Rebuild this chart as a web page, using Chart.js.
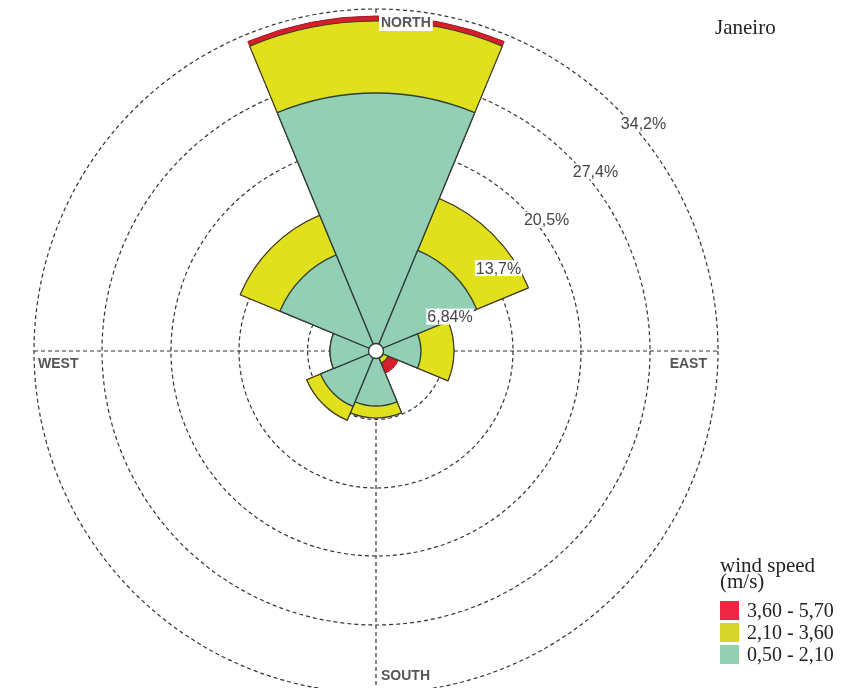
<!DOCTYPE html>
<html>
<head>
<meta charset="utf-8">
<script src="https://cdn.jsdelivr.net/npm/chart.js@4"></script>
<style>
  body { margin: 0; background: #fff; overflow: hidden; }
  #wrap { position: relative; width: 862px; height: 688px; overflow: hidden; }
  #rosa { position: absolute; left: 0; top: 0; }
  #mes { position: absolute; left: 715px; top: 15px; font: 21px "Liberation Serif", "Times New Roman", serif; line-height: 24px; color: #222; }
  #leyenda { position: absolute; left: 720px; top: 557px; font-family: "Liberation Serif", "Times New Roman", serif; color: #222; }
  #leyenda .tit { font-size: 21px; line-height: 16px; }
  #leyenda .fila { display: flex; align-items: center; height: 22px; font-size: 20px; }
  #leyenda .cuadro { width: 19px; height: 19px; margin-right: 8px; }
</style>
</head>
<body>
<div id="wrap">
  <canvas id="rosa" width="862" height="700"></canvas>
  <div id="mes">Janeiro</div>
  <div id="leyenda"></div>
</div>
<script>
// direcciones (sentido horario desde el norte)
const direcciones = ["N", "NE", "E", "SE", "S", "SW", "W", "NW"];

// frecuencia (%) por clase de velocidad
const vel_050_210 = [25.8, 10.9, 4.5, 0.8, 5.5, 6.0, 4.6, 10.4];
const vel_210_360 = [7.2, 5.6, 3.3, 0.5, 1.2, 1.5, 0, 4.3];
const vel_360_570 = [0.5, 0, 0, 1.1, 0, 0, 0, 0];

const clases = ["3,60 - 5,70", "2,10 - 3,60", "0,50 - 2,10"];
const coloresLeyenda = ["#ee2641", "#d5d52b", "#93cfb4"];

// anillos
const valoresTicks = [0, 6.84, 13.7, 20.5, 27.4, 34.2];
const etiquetasTicks = ["", "6,84%", "13,7%", "20,5%", "27,4%", "34,2%"];
const puntosCardinales = ["NORTH", "EAST", "SOUTH", "WEST"];

// acumulados para apilar los sectores
const acumAmarillo = vel_050_210.map((v, i) => v + vel_210_360[i]);
const acumRojo = acumAmarillo.map((v, i) => v + vel_360_570[i]);

// leyenda html
let html = '<div class="tit">wind speed<br>(m/s)</div><div style="height:10px"></div>';
clases.forEach((c, i) => {
  html += `<div class="fila"><div class="cuadro" style="background:${coloresLeyenda[i]}"></div>${c}</div>`;
});
document.getElementById("leyenda").innerHTML = html;

// ejes en cruz (debajo de los sectores)
const cruz = {
  id: "cruz",
  beforeDatasetsDraw(chart) {
    const r = chart.scales.r;
    const ctx = chart.ctx;
    const cx = r.xCenter, cy = r.yCenter, R = r.drawingArea;
    ctx.save();
    ctx.strokeStyle = "#333";
    ctx.lineWidth = 1.2;
    ctx.setLineDash([4, 3]);
    ctx.beginPath();
    ctx.moveTo(cx, cy - R); ctx.lineTo(cx, cy + R);
    ctx.moveTo(cx - R, cy); ctx.lineTo(cx + R, cy);
    ctx.stroke();
    ctx.restore();
  }
};

// etiquetas de anillos, puntos cardinales y circulo central
const rotulos = {
  id: "rotulos",
  afterDatasetsDraw(chart) {
    const r = chart.scales.r;
    const ctx = chart.ctx;
    const cx = r.xCenter, cy = r.yCenter, R = r.drawingArea;
    ctx.save();
    ctx.font = "16px 'Liberation Sans', Arial, sans-serif";
    ctx.textAlign = "left";
    ctx.textBaseline = "top";
    valoresTicks.forEach((v, i) => {
      if (!etiquetasTicks[i]) return;
      const d = r.getDistanceFromCenterForValue(v);
      const x = cx + d * Math.SQRT1_2 + 3;
      const y = cy - d * Math.SQRT1_2 + 7;
      const w = ctx.measureText(etiquetasTicks[i]).width;
      ctx.fillStyle = "#fff";
      ctx.fillRect(x - 1, y - 1, w + 2, 16);
      ctx.fillStyle = "#444";
      ctx.fillText(etiquetasTicks[i], x, y);
    });

    ctx.font = "bold 14px 'Liberation Sans', Arial, sans-serif";
    ctx.textBaseline = "middle";
    const pos = [
      [cx + 5, cy - R + 14, "left"],
      [cx + R - 11, cy + 13, "right"],
      [cx + 5, cy + R - 17, "left"],
      [cx - R + 4, cy + 13, "left"]
    ];
    puntosCardinales.forEach((t, i) => {
      const [x, y, al] = pos[i];
      ctx.textAlign = al;
      const w = ctx.measureText(t).width;
      const x0 = al === "left" ? x : x - w;
      ctx.fillStyle = "#fff";
      ctx.fillRect(x0 - 2, y - 8, w + 4, 16);
      ctx.fillStyle = "#555";
      ctx.fillText(t, x, y);
    });

    ctx.beginPath();
    ctx.arc(cx, cy, 7.5, 0, Math.PI * 2);
    ctx.fillStyle = "#fff";
    ctx.fill();
    ctx.strokeStyle = "#333";
    ctx.lineWidth = 1.3;
    ctx.stroke();
    ctx.restore();
  }
};

const chartDOM = document.getElementById("rosa");
new Chart(chartDOM, {
  type: "polarArea",
  data: {
    labels: direcciones,
    datasets: [
      { label: "0,50 - 2,10", data: vel_050_210, backgroundColor: "#93cfb4", borderColor: "#2f3f35", borderWidth: 1.3 },
      { label: "2,10 - 3,60", data: acumAmarillo, backgroundColor: "#e0e01c", borderColor: "#3b3b20", borderWidth: 1.2 },
      { label: "3,60 - 5,70", data: acumRojo, backgroundColor: "#d61f2b", borderColor: "#a8161f", borderWidth: 1 }
    ]
  },
  options: {
    responsive: false,
    animation: false,
    layout: { padding: { top: 9, bottom: 7, left: 33, right: 143 } },
    plugins: { legend: { display: false }, tooltip: { enabled: false } },
    scales: {
      r: {
        min: 0,
        max: 34.2,
        startAngle: -22.5,
        ticks: { display: false },
        afterBuildTicks: (axis) => { axis.ticks = valoresTicks.map(v => ({ value: v })); },
        pointLabels: { display: false },
        angleLines: { display: false },
        grid: { circular: true, color: "#333", lineWidth: 1.2 },
        border: { dash: [4, 3] }
      }
    }
  },
  plugins: [cruz, rotulos]
});
</script>
</body>
</html>
